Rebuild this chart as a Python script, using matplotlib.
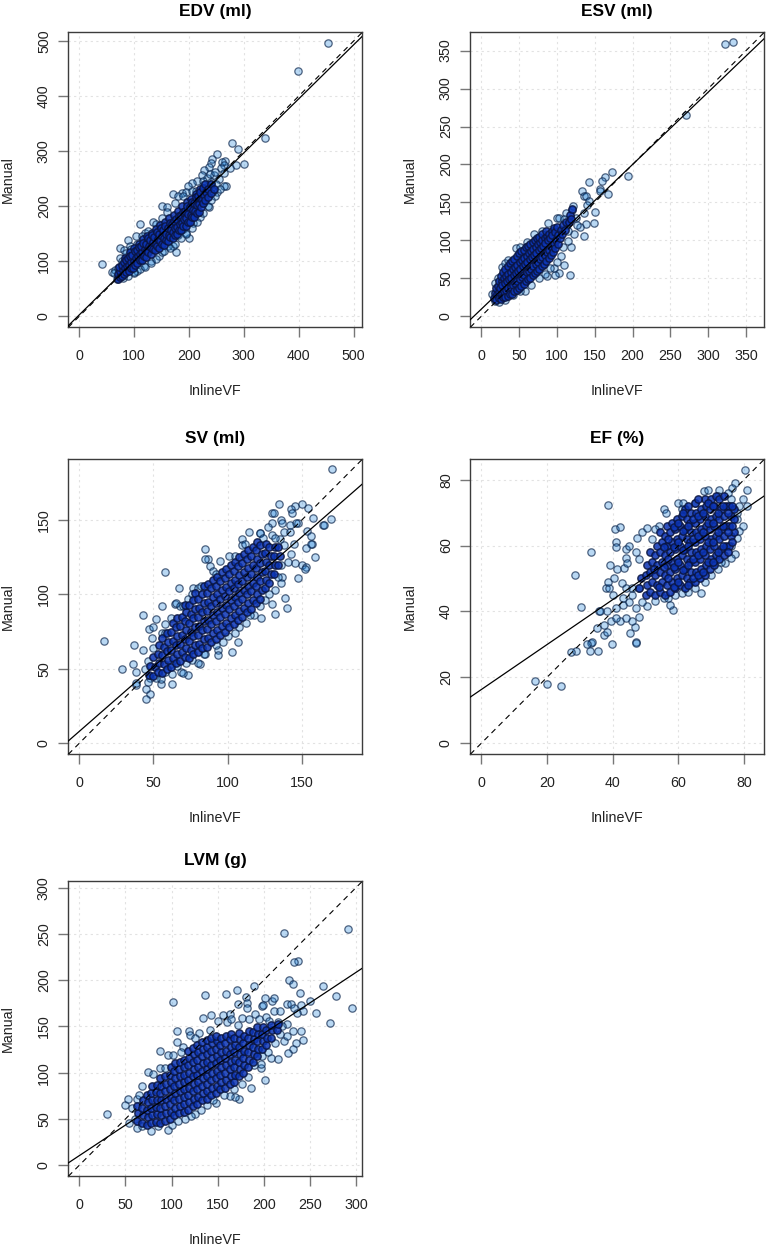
import numpy as np
import matplotlib
matplotlib.use("Agg")
import matplotlib.pyplot as plt

plt.rcParams['font.family'] = ['Liberation Sans', 'DejaVu Sans']

# values: (InlineVF, Manual)
# the "sparse" lists are the points that can be seen one by one,
# the "dense" lists stand in for the solid middle of each cloud
edv_sparse = [(42,95),(454,496),(398,446),(338,324),(279,315),(290,304),(300,276),(286,275),(252,294),(242,285),
    (241,278),(265,282),(261,280),(236,272),(227,265),(264,274),(275,269),(259,269),(264,261),(223,256),
    (245,257),(268,237),(264,237),(252,225),(247,218),(237,198),(220,180),(208,169),(200,143),(194,151),
    (176,116),(170,128),(145,109),(111,167),(104,146),(89,138),(75,124),(151,201),(171,222),(187,224),
    (214,246),(205,242),(60,80),(66,85),(69,68),(89,73),(106,82),(74,106),(82,120),(93,128),(120,152),
    (135,172),(160,198),(180,218),(198,236),(232,252),(238,258),(248,262),(255,250),(235,218),(225,205),
    (215,190),(190,158),(180,148),(162,128),(150,116),(130,100),(118,92),(100,78),(80,70),(70,72),(64,78),
    (228,238),(240,244),(250,240),(256,232),(212,228),(194,226),(85,115),(95,122),(105,132),(115,145),(125,155),
    (140,168),(150,178),(160,190),(175,205),(190,218),(205,228),(225,245),(100,80),(110,86),(120,90),(130,96),
    (140,104),(155,118),(165,124),(175,132),(185,142),(195,150),(205,160),(215,172),(225,188),(235,200),(240,212),
    (243,228),(78,100),(70,88)]
edv_dense = [(70,68),(71,76),(74,72),(75,82),(73,90),(78,74),(79,84),(77,94),(82,76),(83,88),(81,98),(84,106),(86,80),(87,92),(85,102),
    (90,82),(91,94),(89,106),(92,116),(94,87),(95,98),(93,110),(98,88),(99,101),(97,112),(100,124),(102,94),(103,106),(101,118),
    (106,96),(107,109),(105,120),(108,132),(110,102),(111,113),(109,126),(114,102),(115,116),(113,128),(116,140),(118,109),(119,122),(117,133),
    (122,108),(123,120),(121,132),(124,146),(126,116),(127,128),(125,142),(130,114),(131,126),(129,138),(132,152),(134,122),(135,135),(133,148),
    (138,120),(139,132),(137,144),(140,158),(142,128),(143,140),(141,154),(146,124),(147,137),(145,150),(148,166),(150,132),(151,146),(149,160),
    (154,130),(155,142),(153,156),(156,172),(158,138),(159,150),(157,164),(162,136),(163,148),(161,160),(164,178),(166,144),(167,156),(165,170),
    (170,142),(171,154),(169,168),(172,184),(174,148),(175,160),(173,174),(178,150),(179,162),(177,176),(180,192),(182,156),(183,168),(181,182),
    (186,156),(187,170),(185,184),(188,200),(190,164),(191,176),(189,190),(194,164),(195,178),(193,192),(196,208),(198,172),(199,186),(197,200),
    (202,172),(203,184),(201,198),(204,214),(206,180),(207,194),(205,208),(210,180),(211,192),(209,206),(212,222),(214,188),(215,202),(213,216),
    (218,190),(219,204),(217,218),(220,232),(222,198),(223,212),(221,226),(226,206),(227,220),(225,234),(230,212),(231,226),(229,240),(234,216),(235,232),
    (240,224),(241,240),(246,232)]

esv_sparse = [(333,360.6),(322,358),(270,265),(194,185),(173,190.6),(164,184),(159,178),(143,176.5),(157,168),
    (157,165),(167,161),(133.5,165),(136,159),(139,158),(143,151.5),(140,147),(151,137),(136,136),(149,123),
    (139,122),(131,118),(136,106),(122.5,108),(119,92),(115,99),(110,68),(118,55),(103.5,57),(98,55),(96,64),
    (91,64),(87,53.5),(58,34),(46,90),(28,64.5),(31,70),(88.5,123),(121,145),(120,140),(111.5,136),(100.5,129.5),
    (103.5,129.5),(125,129),(127,121),(14,30),(18,44),(22,50),(36,74),(52,92),(60,98),(70,108),(80,112),(110,128),
    (115,112),(108,92),(106,80),(100,72),(84,56),(76,50),(66,42),(52,34),(42,28),(32,22),(24,19),(18,20),(114,120)]
esv_dense = [(17,24),(18,31),(20,22),(21,29),(19,37),(23,24),(24,32),(22,40),(24,47),(26,23),(27,30),(25,38),(27,46),(26,53),
    (29,25),(30,33),(28,41),(30,50),(29,58),(32,26),(33,35),(31,44),(33,53),(32,62),(35,27),(36,37),(34,46),(36,56),(35,66),
    (38,29),(39,39),(37,49),(39,59),(38,70),(41,30),(42,41),(40,51),(42,62),(41,73),(44,33),(45,44),(43,54),(45,65),(44,76),
    (47,35),(48,46),(46,57),(48,68),(47,80),(50,38),(51,49),(49,60),(51,71),(50,83),(53,40),(54,52),(52,63),(54,74),(53,86),
    (56,43),(57,55),(55,66),(57,77),(56,88),(59,46),(60,58),(58,69),(60,80),(59,91),(62,49),(63,60),(61,72),(63,83),(62,93),
    (65,51),(66,63),(64,75),(66,86),(65,96),(68,54),(69,66),(67,78),(69,89),(68,98),(71,57),(72,69),(70,81),(72,92),(71,100),
    (74,60),(75,72),(73,84),(75,95),(74,103),(77,63),(78,75),(76,87),(78,98),(77,105),(80,66),(81,78),(79,90),(81,100),(80,108),
    (83,69),(84,81),(82,93),(84,103),(86,73),(87,85),(85,97),(87,106),(86,112),(89,77),(90,88),(88,100),(90,109),(92,81),(93,92),
    (91,103),(93,113),(95,85),(96,96),(94,107),(96,116),(98,90),(99,100),(97,111),(101,96),(102,107),(100,118),(104,103),(105,114),
    (107,108),(108,120),(111,114),(112,124),(116,124),(117,134),(119,128),(120,142)]

sv_sparse = [(170.5,184),(169.5,151),(164,146.4),(165,146.4),(157.6,151.5),(154.3,157.8),(150,161),(145.3,159.4),(143,157.6),
    (143.5,155),(134.7,161),(130,154.5),(131,154.5),(136,150),(137,148),(130,148),(147.5,147.8),(146,148),(142,146.6),(114.5,142),
    (121.7,141),(153.6,142.6),(156.5,139),(157,134),(156,134),(153,131),(158.8,125),(145.3,121),(150,119.8),(153,118.4),(152,117),
    (147.5,111),(139,97.4),(139.7,90.7),(130,93.8),(132,87),(122.4,84),(112.7,81),(106.7,68.3),(103,61.6),(93.6,62.5),
    (93.6,59),(81.3,53.5),(80,54),(73.4,45.7),(68.5,48),(70,47),(62.7,46.3),(62.2,40),(54.8,39.6),(48,33),(45,29.5),(44.7,36.7),
    (38,39),(38,40.7),(36.4,53),(28.7,50),(38.2,48),(16.4,68.7),(36.8,65.8),(43,62.7),(43,86),(52,83.7),(47,77),
    (56,92),(58,114.8),(67,104),(64.5,93.8),(65,94),(76.8,104),(84.7,130.5),(86.5,124),(85,124),(88,119),(95,122.5),(100.8,125.8),
    (109.4,137.5),(109.4,133),(48.7,71),(55.5,74),(50,78),(58,80),(46,55),(44,50),(48,44),(55,43),(46,41),(122,141),(127,145),(130,140),
    (138,142),(142,142),(145,134),(143,127),(141,122),(137,112),(136,108),(132,103),(125,96),(118,86),(105,74),(97,68),(85,60),(72,54),
    (62,53),(90,116),(80,104),(73,97),(68,92),(135,137),(138,133),(50,64),(58,74),(62,84),(70,92),(76,100),(82,106),(92,114),(105,126),
    (112,134),(124,138),(132,138),(136,120),(134,112),(128,100),(122,92),(115,86),(108,78),(100,72),(92,66),(84,60),(76,56),(66,52),(58,48),(52,44)]
sv_dense = [(47,46),(48,52),(50,45),(51,51),(50,58),(53,48),(54,54),(53,60),(54,66),(56,47),(57,53),(56,59),(57,65),(56,71),
    (59,50),(60,56),(59,62),(60,68),(59,74),(62,51),(63,57),(62,63),(63,69),(62,75),(63,81),(65,54),(66,60),(65,66),(66,72),(65,78),(66,84),
    (68,55),(69,61),(68,67),(69,73),(68,79),(69,85),(71,58),(72,64),(71,70),(72,76),(71,82),(72,88),(71,93),
    (74,57),(75,63),(74,69),(75,75),(74,81),(75,87),(74,93),(77,60),(78,66),(77,72),(78,78),(77,84),(78,90),(77,96),(78,101),
    (80,61),(81,67),(80,73),(81,79),(80,85),(81,91),(80,97),(83,64),(84,70),(83,76),(84,82),(83,88),(84,94),(83,100),(84,106),
    (86,65),(87,71),(86,77),(87,83),(86,89),(87,95),(86,101),(87,107),(89,68),(90,74),(89,80),(90,86),(89,92),(90,98),(89,104),(90,110),
    (92,70),(93,76),(92,82),(93,88),(92,94),(93,100),(92,106),(93,112),(95,73),(96,79),(95,85),(96,91),(95,97),(96,103),(95,109),(96,115),
    (98,75),(99,81),(98,87),(99,93),(98,99),(99,105),(98,111),(99,117),(101,78),(102,84),(101,90),(102,96),(101,102),(102,108),(101,114),(102,120),
    (104,80),(105,86),(104,92),(105,98),(104,104),(105,110),(104,116),(105,122),(107,83),(108,89),(107,95),(108,101),(107,107),(108,113),(107,119),(108,125),
    (110,85),(111,91),(110,97),(111,103),(110,109),(111,115),(110,121),(111,127),(113,88),(114,94),(113,100),(114,106),(113,112),(114,118),(113,124),(114,130),
    (116,90),(117,96),(116,102),(117,108),(116,114),(117,120),(116,126),(117,132),(119,94),(120,100),(119,106),(120,112),(119,118),(120,124),(119,130),(120,135),
    (122,97),(123,103),(122,109),(123,115),(122,121),(123,127),(122,133),(125,104),(126,110),(125,116),(126,122),(125,128),(126,134),
    (128,108),(129,114),(128,120),(129,126),(128,132),(131,114),(132,120),(131,126),(132,132),(134,120),(135,126),(134,132)]

ef_sparse = [(80.4,83),(81,77),(77.3,79),(79.8,74),(81,72),(79.8,66),(78.6,64.4),(78,62.2),(77.2,57.4),(76,56.3),(74.3,54.6),
    (72.2,53),(66.9,45.7),(61,45.5),(58.5,40.5),(57.5,42),(55.7,44),(53,43.2),(50.6,41.7),(48,38.4),(46.7,35.4),(45.3,33.4),
    (46,37.2),(47,30.7),(47,30.3),(39.7,30),(35.4,28),(33,28),(33.5,30.3),(33.6,30.7),(32.3,30),(28.8,28),(27.2,27.7),(37.4,32.9),
    (38.4,33.8),(35.2,35),(37.2,36),(39.4,37),(42.2,37),(35.7,40),(36,40),(30.3,41.4),(38.4,40.2),(28.6,51),(33.5,58),(39.2,54),
    (38.7,72.2),(40.8,65),(42.2,65.6),(41,61),(41,59.7),(16.3,18.9),(19.9,17.9),(24.1,17.4),(41.2,53),(43.3,53.3),(37.9,47),
    (38.9,47),(38.6,49),(40.4,50),(40,45),(42.7,48.7),(44,56.3),(44.5,54.8),(47.3,62.2),(49,64),(50.6,65.4),(55.7,71.2),
    (56.2,70),(59.8,73),(61.5,73),(67.9,76.5),(69,77),(72.5,76.8),(76.5,77.4),(75,76),(44,59),(45,60),(47,58),(48,56),(44,47),(45,43),
    (43,42),(41,41),(46,45),(47,41),(49,43),(52,62),(54,66),(53,65),(56,60),(78,70),(78,68),(76,60),(73,55),(70,51),(68,49),(65,47),
    (63,46),(59,45),(57,44),(76,74),(72,75),(65,73),(61,71),(46,47),(48,47),(43,44),(44,38),(41,38),(78.5,72)]
ef_dense = [(48,47),(48.5,50),(50,45),(50.5,48),(50,51),(50.5,54),(51.5,46),(52,49),(51.5,52),(52,55),(51.5,58),
    (53,45),(53.5,48),(53,51),(53.5,54),(53,57),(53.5,60),(54.5,46),(55,49),(54.5,52),(55,55),(54.5,58),(55,61),(54.5,64),
    (56,45),(56.5,48),(56,51),(56.5,54),(56,57),(56.5,60),(56,63),(56.5,66),(57.5,46),(58,49),(57.5,52),(58,55),(57.5,58),(58,61),(57.5,64),(58,67),
    (59,47),(59.5,50),(59,53),(59.5,56),(59,59),(59.5,62),(59,65),(59.5,68),(60.5,48),(61,51),(60.5,54),(61,57),(60.5,60),(61,63),(60.5,66),(61,69),
    (62,47),(62.5,50),(62,53),(62.5,56),(62,59),(62.5,62),(62,65),(62.5,68),(62,71),(63.5,49),(64,52),(63.5,55),(64,58),(63.5,61),(64,64),(63.5,67),(64,70),
    (65,49),(65.5,52),(65,55),(65.5,58),(65,61),(65.5,64),(65,67),(65.5,70),(65,73),(66.5,50),(67,53),(66.5,56),(67,59),(66.5,62),(67,65),(66.5,68),(67,71),
    (68,51),(68.5,54),(68,57),(68.5,60),(68,63),(68.5,66),(68,69),(68.5,72),(68,74),(69.5,53),(70,56),(69.5,59),(70,62),(69.5,65),(70,68),(69.5,71),(70,74),
    (71,54),(71.5,57),(71,60),(71.5,63),(71,66),(71.5,69),(71,72),(71.5,75),(72.5,56),(73,59),(72.5,62),(73,65),(72.5,68),(73,71),(72.5,74),
    (74,57),(74.5,60),(74,63),(74.5,66),(74,69),(74.5,72),(74,75),(75.5,60),(76,63),(75.5,66),(76,69),(75.5,72),(77,64),(77,68),(77,71),
    (52.7,53),(54,47.5),(55.5,53.5),(55.7,59.5),(57,50),(57,56),(57,62),(58.7,47.5),(58.7,53.5),(58.7,59.5),(58.7,65.5),(60,49),(60,55),(60,61),(60,67),
    (61.5,52.5),(61.5,58.5),(61.5,64.5),(61.5,70),(63,48),(63,54),(63,60),(63,66),(63,72),(64.5,50),(64.5,56),(64.5,62),(64.5,68),(66,51),(66,57),(66,63),
    (66,69),(66,74),(67.5,52),(67.5,58),(67.5,64),(67.5,70),(69,55),(69,61),(69,67),(69,73),(70.5,55),(70.5,61),(70.5,67),(70.5,72),(72,58),(72,64),(72,70),
    (73.5,60),(73.5,66),(73.5,72),(75,58),(75,64),(75,70),(76.5,61),(76.5,66),(76.5,72)]

lvm_sparse = [(292,255),(296,170),(279,182.5),(272,154),(264,193.6),(257,165),(250,178),(243,166.6),(240.7,172.7),(239.6,186),
    (236.7,220.7),(232.4,220),(222,251),(228,200),(231.6,196),(225,174),(229.5,174.5),(232.4,170),(236,165),(240.3,145),(242.5,134.9),
    (235,132),(232,126),(226,121.5),(222,134),(231.6,144.6),(225.8,153),(225,140),(215,115),(207.7,116),(200.9,91.6),(197,105),(197,109),
    (186,83),(173.7,71.8),(169,73.6),(163.6,74.6),(148,67.4),(138,65.6),(125,55.5),(121,53.7),(107.5,47.6),(96.6,38.6),(77.8,37.5),
    (62,39.7),(54,45.8),(30,55),(50,65.6),(53,71.8),(57.5,62),(67.7,85.8),(74,100.6),(79.6,98.8),(88,124),(101.3,176),(105.7,145),
    (105.7,133),(119.4,145),(120,141),(130,143),(134.6,158.7),(143,162),(150,156),(156.3,162),(136.8,184),(158.9,184.6),(171,189.7),
    (171.6,173.8),(190,194),(181,181.8),(181.7,175.6),(182.4,170),(198,172),(200.9,181),(208.8,177.4),(211.4,181),(211.7,166.6),(217.9,167),
    (202.3,160.5),(190.7,163),(176,159.4),(163.6,163),(96.6,119),(102,119.7),(87.6,105.3),(93,105.3),(199,173),(160,155),(165,158),
    (172,152),(184,158),(195,158),(206,156),(215,155),(220,150),(218,142),(212,132),(205,122),(198,118),(190,108),(183,95),(176,88),
    (168,82),(157,76),(145,70),(132,60),(115,50),(100,44),(85,42),(68,42),(60,50),(62,72),(65,76),(112,128),(125,138),(142,146),(110,122)]
lvm_dense = [(63,48),(64,56),(63,64),(68,46),(69,54),(68,62),(69,70),(73,44),(74,52),(73,60),(74,68),(73,76),
    (78,46),(79,54),(78,62),(79,70),(78,78),(79,86),(83,47),(84,55),(83,63),(84,71),(83,79),(84,87),(88,46),(89,54),(88,62),(89,70),(88,78),(89,86),(88,94),
    (93,48),(94,56),(93,64),(94,72),(93,80),(94,88),(93,96),(98,50),(99,58),(98,66),(99,74),(98,82),(99,90),(98,98),(99,106),
    (103,54),(104,62),(103,70),(104,78),(103,86),(104,94),(103,102),(104,110),(108,56),(109,64),(108,72),(109,80),(108,88),(109,96),(108,104),(109,112),
    (113,58),(114,66),(113,74),(114,82),(113,90),(114,98),(113,106),(114,114),(118,60),(119,68),(118,76),(119,84),(118,92),(119,100),(118,108),(119,116),(118,123),
    (123,64),(124,72),(123,80),(124,88),(123,96),(124,104),(123,112),(124,120),(123,127),(128,66),(129,74),(128,82),(129,90),(128,98),(129,106),(128,114),(129,122),(128,130),
    (133,70),(134,78),(133,86),(134,94),(133,102),(134,110),(133,118),(134,126),(133,133),(138,72),(139,80),(138,88),(139,96),(138,104),(139,112),(138,120),(139,128),(138,135),
    (143,76),(144,84),(143,92),(144,100),(143,108),(144,116),(143,124),(144,132),(143,138),(148,78),(149,86),(148,94),(149,102),(148,110),(149,118),(148,126),(149,134),(148,140),
    (153,82),(154,90),(153,98),(154,106),(153,114),(154,122),(153,130),(154,138),(158,84),(159,92),(158,100),(159,108),(158,116),(159,124),(158,132),(159,140),
    (163,88),(164,96),(163,104),(164,112),(163,120),(164,128),(163,136),(164,142),(168,90),(169,98),(168,106),(169,114),(168,122),(169,130),(168,138),
    (173,96),(174,104),(173,112),(174,120),(173,128),(174,136),(173,143),(178,100),(179,108),(178,116),(179,124),(178,132),(179,140),
    (183,106),(184,114),(183,122),(184,130),(183,138),(184,145),(188,112),(189,120),(188,128),(189,136),(188,144),(193,118),(194,126),(193,134),(194,142),(193,149),
    (198,126),(199,134),(198,142),(199,149),(203,130),(204,138),(203,146),(208,138),(209,146),(208,152),(214,146),(215,153)]

titles = ["EDV (ml)", "ESV (ml)", "SV (ml)", "EF (%)", "LVM (g)"]
x_label = "InlineVF"
y_label = "Manual"
intercepts = [2.6, 9.4, 8.0, 16.3, 10.4]
slopes = [0.981, 0.953, 0.871, 0.682, 0.66]
ticks = [[0,100,200,300,400,500], [0,50,100,150,200,250,300,350], [0,50,100,150], [0,20,40,60,80], [0,50,100,150,200,250,300]]
limits = [(-20,516), (-14.3,374), (-7.4,190.8), (-3.4,86.2), (-12,307)]
sparse = [edv_sparse, esv_sparse, sv_sparse, ef_sparse, lvm_sparse]
dense = [edv_dense, esv_dense, sv_dense, ef_dense, lvm_dense]

W, H = 767, 1248
boxes = [(68.3,32.3), (470.3,32.3), (68.3,459.3), (470.3,459.3), (68.3,881.3)]  # left, top in pixels
box_w, box_h = 294, 295

fig = plt.figure(figsize=(W/100, H/100), dpi=100)

for i in range(5):
    left, top = boxes[i]
    ax = fig.add_axes([left/W, 1-(top+box_h)/H, box_w/W, box_h/H])
    ax.set_xlim(limits[i])
    ax.set_ylim(limits[i])
    ax.set_xticks(ticks[i])
    ax.set_yticks(ticks[i])
    ax.grid(True, color="#e2e2e2", lw=0.8, ls=(0,(2,3)), zorder=0)
    ax.set_axisbelow(True)

    a = np.array(sparse[i])
    b = np.array(dense[i])
    ax.scatter(a[:,0], a[:,1], s=28, facecolor=(0.1,0.5,0.85,0.30), edgecolor=(0.05,0.15,0.3,0.7), linewidth=0.9, zorder=2)
    ax.scatter(b[:,0], b[:,1], s=28, facecolor=(0.04,0.2,0.7,0.85), edgecolor=(0.04,0.08,0.24,0.85), linewidth=1.05, zorder=3)

    ax.axline((0,0), slope=1, color="black", lw=0.8, ls=(0,(5,4)), zorder=4)
    ax.axline((0,intercepts[i]), slope=slopes[i], color="black", lw=0.9, zorder=5)

    for s in ax.spines.values():
        s.set_color("#3c3c3c")
        s.set_linewidth(1.0)
    ax.tick_params(axis="x", length=7, width=1, color="#777777", labelsize=10.3, labelcolor="#222222", pad=8.5)
    ax.tick_params(axis="y", length=7, width=1, color="#777777", labelsize=10.3, labelcolor="#222222", pad=5.5)
    plt.setp(ax.get_yticklabels(), rotation=90, va="center")
    ax.set_title(titles[i], fontsize=12.5, fontweight="bold", pad=11.5)
    ax.set_xlabel(x_label, fontsize=10.3, color="#222222", labelpad=15.5)
    ax.set_ylabel(y_label, fontsize=10.3, color="#222222", labelpad=16)

fig.savefig("out.png", dpi=100)
